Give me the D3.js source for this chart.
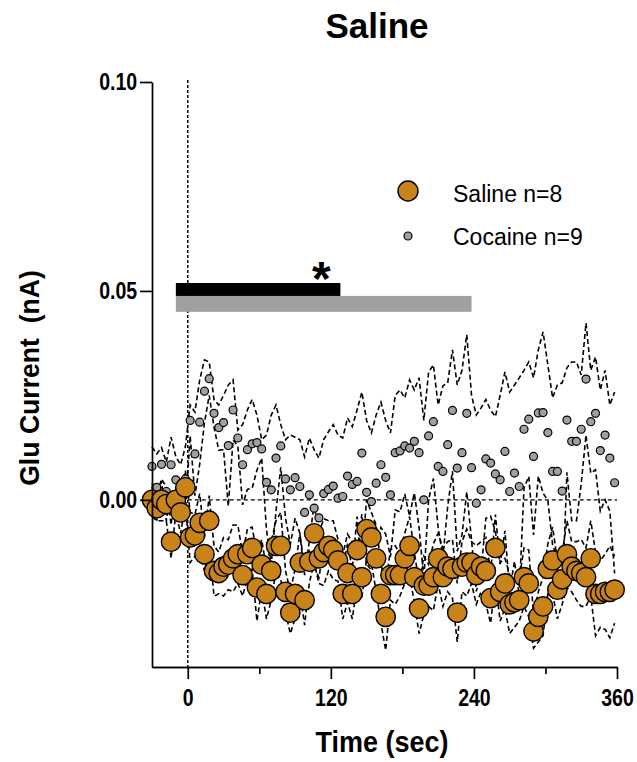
<!DOCTYPE html>
<html>
<head>
<meta charset="utf-8">
<script src="https://cdn.jsdelivr.net/npm/d3@7"></script>
<style>
  html, body { margin: 0; padding: 0; background: #fff; }
  svg text { font-family: Arial, "Liberation Sans", sans-serif; fill: #000; }
</style>
</head>
<body>
<svg id="chart" width="637" height="762"></svg>
<script>
// Sample times (s), one bin every 4 s from -30 to 358
const times = d3.range(-30, 360, 4);

// Mean glutamate current (nA) per bin
const salineMean = [
  0.000, -0.002, 0.000, -0.001, -0.010, 0.000, -0.003, 0.003,
  -0.009, -0.0085, -0.0055, -0.013, -0.005, -0.017, -0.0175, -0.016,
  -0.0155, -0.014, -0.013, -0.018, -0.013, -0.0115, -0.021, -0.0155,
  -0.0225, -0.017, -0.011, -0.011, -0.022, -0.027, -0.0225, -0.015,
  -0.024, -0.0148, -0.008, -0.014, -0.0125, -0.011, -0.012, -0.0145,
  -0.0225, -0.0175, -0.0225, -0.012, -0.0185, -0.007, -0.009, -0.014,
  -0.0225, -0.028, -0.018, -0.018, -0.018, -0.014, -0.011, -0.0185,
  -0.026, -0.0205, -0.0205, -0.0185, -0.014, -0.0185, -0.016, -0.0165,
  -0.027, -0.016, -0.015, -0.015, -0.018, -0.016, -0.017, -0.0235,
  -0.0115, -0.022, -0.020, -0.025, -0.0245, -0.024, -0.0185, -0.020,
  -0.0315, -0.028, -0.0255, -0.0165, -0.0145, -0.0215, -0.019, -0.013,
  -0.016, -0.017, -0.0175, -0.0185, -0.014, -0.0225, -0.0225, -0.022,
  -0.022, -0.0215
];
const salineSem = [
  0.004, 0.003, 0.005, 0.004, 0.004, 0.003, 0.005, 0.004,
  0.006, 0.005, 0.007, 0.004, 0.006, 0.006, 0.005, 0.007,
  0.006, 0.008, 0.007, 0.005, 0.006, 0.005, 0.008, 0.006,
  0.006, 0.007, 0.006, 0.008, 0.005, 0.005, 0.006, 0.007,
  0.006, 0.005, 0.007, 0.006, 0.008, 0.006, 0.007, 0.005,
  0.006, 0.007, 0.006, 0.008, 0.005, 0.007, 0.006, 0.008,
  0.007, 0.008, 0.006, 0.007, 0.005, 0.006, 0.007, 0.006,
  0.006, 0.007, 0.005, 0.008, 0.006, 0.007, 0.006, 0.007,
  0.007, 0.006, 0.008, 0.005, 0.007, 0.006, 0.008, 0.006,
  0.008, 0.007, 0.006, 0.007, 0.006, 0.005, 0.007, 0.008,
  0.004, 0.006, 0.007, 0.006, 0.008, 0.007, 0.006, 0.008,
  0.006, 0.007, 0.008, 0.007, 0.009, 0.010, 0.008, 0.009,
  0.011, 0.008
];
const cocaineMean = [
  0.008, 0.003, 0.0085, 0.002, 0.0084, 0.0048, 0.002, 0.005,
  0.019, 0.011, 0.0186, 0.026, 0.029, 0.0207, 0.0173, 0.0185,
  0.013, 0.0215, 0.0148, 0.0084, 0.012, 0.0134, 0.0137, 0.0122,
  0.0042, 0.0024, 0.010, 0.0129, 0.005, 0.0024, 0.0053, 0.0032,
  -0.003, 0.0012, -0.002, -0.0043, 0.0015, 0.0025, 0.0033, 0.0004,
  0.0008, 0.0057, 0.0037, 0.0044, 0.0112, 0.0018, -0.0004, 0.004,
  0.0084, 0.0054, 0.0012, 0.0113, 0.0117, 0.0129, 0.0124, 0.014,
  0.0113, 0.000, 0.0153, 0.0187, 0.008, 0.0068, 0.0132, 0.0214,
  0.0076, 0.0113, 0.0207, 0.0077, -0.0008, 0.0024, 0.0098, 0.0088,
  0.0062, 0.0048, 0.0116, 0.002, 0.0064, 0.0032, 0.0169, 0.0193,
  0.0104, 0.0208, 0.0209, 0.0161, 0.0068, 0.0068, 0.0021, 0.0191,
  0.014, 0.014, 0.0169, 0.0289, 0.0187, 0.0207, 0.0118, 0.0155,
  0.010, 0.0041
];
const cocaineSem = [
  0.0047, 0.008, 0.004, 0.007, 0.0066, 0.0055, 0.0064, 0.0077,
  0.0037, 0.010, 0.0101, 0.0075, 0.004, 0.0033, 0.0054, 0.0065,
  0.0145, 0.0072, 0.0019, 0.0096, 0.0095, 0.0106, 0.0066, 0.0022,
  0.0113, 0.0179, 0.0127, 0.0051, 0.0094, 0.0131, 0.0097, 0.0112,
  0.0133, 0.0136, 0.014, 0.0143, 0.0129, 0.0138, 0.0147, 0.0151,
  0.014, 0.0139, 0.0138, 0.0171, 0.0146, 0.0172, 0.0164, 0.0163,
  0.015, 0.0136, 0.0148, 0.0137, 0.0146, 0.0115, 0.0163, 0.0123,
  0.0179, 0.019, 0.0153, 0.0136, 0.0147, 0.0205, 0.0148, 0.0145,
  0.0199, 0.0197, 0.0188, 0.0173, 0.0211, 0.0196, 0.0142, 0.0127,
  0.0137, 0.0202, 0.019, 0.0238, 0.0211, 0.026, 0.0141, 0.0137,
  0.0188, 0.0151, 0.0193, 0.0162, 0.0176, 0.0207, 0.0259, 0.0125,
  0.019, 0.019, 0.013, 0.0134, 0.0123, 0.0135, 0.0145, 0.0155,
  0.0127, 0.0217
];

// Significance bars: [start, end] in seconds, [low, high] in nA
const barRanges = [
  { name: "cocaine", start: -10, end: 238, low: 0.045, high: 0.0488, color: "#a09fa3" },
  { name: "saline",  start: -10, end: 128, low: 0.0488, high: 0.0519, color: "#000000" }
];
const starAt = [112, 0.0555];

const xMajorTicks = [0, 120, 240, 360];
const xMinorTicks = [60, 180, 300];
const yTicks = [0, 0.05, 0.10];
const legendLabels = ["Saline n=8", "Cocaine n=9"];

const salineColor = "#c8841a";
const cocaineColor = "#a0a0a0";

const svg = d3.select("#chart");
const x = d3.scaleLinear().domain([-30, 360]).range([152, 617]);
const y = d3.scaleLinear().domain([-0.04, 0.10]).range([667, 82]);

const saline = times.map((t, i) => ({ t, m: salineMean[i], s: salineSem[i] }));
const cocaine = times.map((t, i) => ({ t, m: cocaineMean[i], s: cocaineSem[i] }));

// Title
svg.append("text")
  .attr("x", 377).attr("y", 38)
  .attr("text-anchor", "middle")
  .style("font-size", "35px").style("font-weight", "bold")
  .text("Saline");

// Reference lines at t = 0 and 0 nA
svg.append("line")
  .attr("x1", x(0)).attr("x2", x(0))
  .attr("y1", 80).attr("y2", y(-0.04))
  .attr("stroke", "#000").attr("stroke-width", 1.5)
  .attr("stroke-dasharray", "3,2");
svg.append("line")
  .attr("x1", x(0)).attr("x2", x(360))
  .attr("y1", y(0)).attr("y2", y(0))
  .attr("stroke", "#000").attr("stroke-width", 1.4)
  .attr("stroke-dasharray", "4,3");

// SEM envelopes
const line = d3.line().x(d => x(d[0])).y(d => y(d[1]));
function band(data, sign) {
  return data.map(d => [d.t, d.m + sign * d.s]);
}
const bandG = svg.append("g")
  .attr("fill", "none").attr("stroke", "#000")
  .attr("stroke-width", 1.6).attr("stroke-dasharray", "5,3");
[band(cocaine, 1), band(cocaine, -1), band(saline, 1), band(saline, -1)].forEach(pts => {
  bandG.append("path").attr("d", line(pts));
});

// Significance bars
svg.append("g").selectAll("rect")
  .data(barRanges)
  .join("rect")
  .attr("x", d => x(d.start))
  .attr("width", d => x(d.end) - x(d.start))
  .attr("y", d => y(d.high))
  .attr("height", d => y(d.low) - y(d.high))
  .attr("fill", d => d.color);
svg.append("text")
  .attr("x", x(starAt[0])).attr("y", y(starAt[1]) + 27)
  .attr("text-anchor", "middle")
  .style("font-size", "48px").style("font-weight", "bold")
  .text("*");

// Points
svg.append("g").selectAll("circle")
  .data(cocaine)
  .join("circle")
  .attr("cx", d => x(d.t)).attr("cy", d => y(d.m)).attr("r", 4)
  .attr("fill", cocaineColor).attr("stroke", "#000").attr("stroke-width", 1.2);
svg.append("g").selectAll("circle")
  .data(saline)
  .join("circle")
  .attr("cx", d => x(d.t)).attr("cy", d => y(d.m)).attr("r", 9.7)
  .attr("fill", salineColor).attr("stroke", "#000").attr("stroke-width", 1.4);

// Axes
function styleAxis(g) {
  g.selectAll(".domain").attr("stroke-width", 1.7);
  g.selectAll(".tick line").attr("stroke-width", 1.7);
  g.selectAll("text").style("font-family", "Arial, 'Liberation Sans', sans-serif")
    .style("font-weight", "bold").style("font-size", "23.5px").attr("fill", "#000")
    .attr("transform", "scale(0.83,1)");
}
const xAxisMajor = svg.append("g")
  .attr("transform", `translate(0,${y(-0.04)})`)
  .call(d3.axisBottom(x).tickValues(xMajorTicks).tickSize(12).tickSizeOuter(0).tickPadding(10).tickFormat(d3.format("d")));
styleAxis(xAxisMajor);
const xAxisMinor = svg.append("g")
  .attr("transform", `translate(0,${y(-0.04)})`)
  .call(d3.axisBottom(x).tickValues(xMinorTicks).tickSize(7).tickSizeOuter(0).tickFormat(""));
styleAxis(xAxisMinor);
const yAxis = svg.append("g")
  .attr("transform", `translate(${x(-30)},0)`)
  .call(d3.axisLeft(y).tickValues(yTicks).tickSize(12).tickSizeOuter(0).tickPadding(6).tickFormat(d3.format(".2f")));
styleAxis(yAxis);

// Axis titles
svg.append("text")
  .attr("transform", "translate(382,752) scale(0.9,1)")
  .attr("text-anchor", "middle")
  .style("font-size", "30px").style("font-weight", "bold")
  .text("Time (sec)");
svg.append("text")
  .attr("transform", "translate(39,378) rotate(-90) scale(0.95,1)")
  .attr("text-anchor", "middle")
  .style("font-size", "28px").style("font-weight", "bold")
  .style("white-space", "pre")
  .text("Glu Current  (nA)");

// Legend
const legend = svg.append("g");
legend.append("circle").attr("cx", 408).attr("cy", 191).attr("r", 10)
  .attr("fill", salineColor).attr("stroke", "#000").attr("stroke-width", 1.4);
legend.append("circle").attr("cx", 408).attr("cy", 236).attr("r", 4)
  .attr("fill", cocaineColor).attr("stroke", "#000").attr("stroke-width", 1.2);
legend.selectAll("text.lbl")
  .data(legendLabels)
  .join("text")
  .attr("class", "lbl")
  .attr("x", 453).attr("y", (d, i) => 202 + i * 43)
  .style("font-size", "23px")
  .text(d => d);
</script>
</body>
</html>
